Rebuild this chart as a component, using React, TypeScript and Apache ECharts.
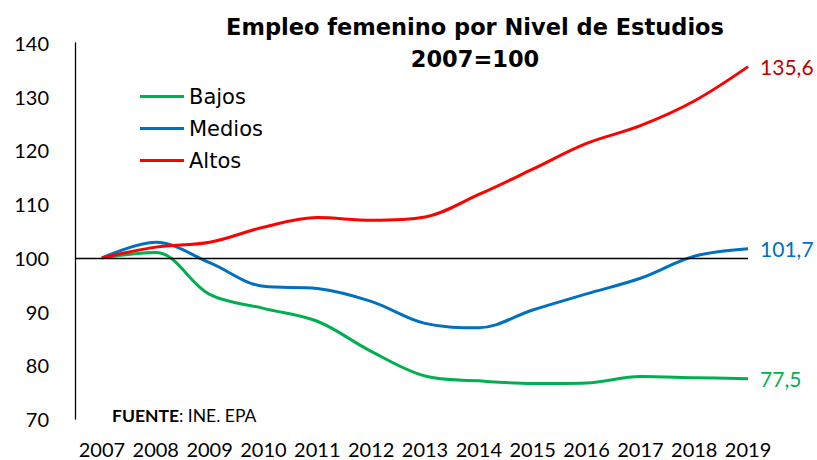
import React, { useEffect, useRef } from "react";
import * as echarts from "echarts";

const years = [2007, 2008, 2009, 2010, 2011, 2012, 2013, 2014, 2015, 2016, 2017, 2018, 2019];
const yearLabels = years.map(String);
const bajos = [100, 101.0, 93.2, 90.6, 88.2, 82.6, 78.0, 77.1, 76.6, 76.7, 77.9, 77.7, 77.5];
const medios = [100, 102.9, 99.1, 94.7, 94.3, 91.9, 87.8, 87.0, 90.3, 93.3, 96.2, 100.3, 101.7];
const altos = [100, 102.0, 102.9, 105.7, 107.5, 107.0, 107.6, 111.8, 116.5, 121.3, 124.6, 129.2, 135.6];
const yTicks = { min: 70, max: 140, interval: 10 };
const baseValue = 100;
const xMin = 2006.5;
const xMax = 2019.5;

const LABEL_FONT = "Lato, 'Open Sans', sans-serif";
const LEGEND_FONT = "'DejaVu Sans', sans-serif";

function pairs(vals: number[]) {
  return vals.map((v, i) => [years[i], v]);
}

export default function App() {
  const ref = useRef<HTMLDivElement>(null);
  useEffect(() => {
    if (!ref.current) return;
    const chart = echarts.init(ref.current, null, { renderer: "svg" });
    const mk = (name: string, vals: number[], color: string, labelColor: string) => ({
      name,
      type: "line",
      xAxisIndex: 0,
      data: pairs(vals),
      smooth: 0.35,
      symbol: "none",
      lineStyle: { color, width: 3 },
      itemStyle: { color },
      endLabel: {
        show: true,
        distance: 12,
        color: labelColor,
        fontFamily: LABEL_FONT,
        fontSize: 21,
        formatter: (p: any) => Number(p.value[1]).toFixed(1).replace(".", ","),
      },
    });
    const sBajos: any = mk("Bajos", bajos, "#00B050", "#00B050");
    sBajos.markLine = {
      silent: true,
      symbol: "none",
      label: { show: false },
      lineStyle: { color: "#000", width: 1.3, type: "solid" },
      data: [[{ coord: [xMin, baseValue] }, { coord: [years[years.length - 1], baseValue] }]],
    };
    chart.setOption({
      animation: false,
      backgroundColor: "#fff",
      title: {
        text: "Empleo femenino por Nivel de Estudios\n2007=100",
        left: 470,
        top: 6,
        textAlign: "center",
        textStyle: {
          fontFamily: LEGEND_FONT,
          fontWeight: "bold",
          fontSize: 22.5,
          lineHeight: 32,
          color: "#000",
        },
      },
      legend: {
        orient: "vertical",
        left: 135,
        top: 81,
        icon: "rect",
        itemWidth: 44,
        itemHeight: 3,
        itemGap: 11,
        data: ["Bajos", "Medios", "Altos"],
        textStyle: { fontFamily: LEGEND_FONT, fontSize: 21, color: "#000", padding: [0, 0, 0, 0] },
      },
      grid: { left: 75, right: 42, top: 43, bottom: 41 },
      xAxis: [
        { type: "value", min: xMin, max: xMax, show: false, position: "top" },
        {
          type: "category",
          data: yearLabels,
          boundaryGap: true,
          position: "bottom",
          offset: 0,
          axisLine: { show: false },
          axisTick: { show: false },
          axisLabel: { fontFamily: LABEL_FONT, fontSize: 20, color: "#000", margin: 20, interval: 0 },
        },
      ],
      yAxis: {
        type: "value",
        min: yTicks.min,
        max: yTicks.max,
        interval: yTicks.interval,
        axisLine: { show: true, lineStyle: { color: "#000", width: 1.3 } },
        axisTick: { show: false },
        splitLine: { show: false },
        axisLabel: { fontFamily: LABEL_FONT, fontSize: 20, color: "#000", margin: 26, padding: [5, 0, 0, 0] },
      },
      graphic: [
        {
          type: "text",
          left: 112,
          top: 406,
          style: {
            text: "{b|FUENTE}{n|: INE. EPA}",
            rich: {
              b: { fontFamily: LABEL_FONT, fontWeight: "bold", fontSize: 17.5, fill: "#000" },
              n: { fontFamily: LABEL_FONT, fontSize: 17.5, fill: "#000" },
            },
          },
        },
      ],
      series: [
        sBajos,
        mk("Medios", medios, "#0070C0", "#0070C0"),
        mk("Altos", altos, "#FF0000", "#C00000"),
      ],
    });
    return () => chart.dispose();
  }, []);
  return <div ref={ref} style={{ position: "absolute", left: 0, top: 0, width: 817, height: 460 }} />;
}
